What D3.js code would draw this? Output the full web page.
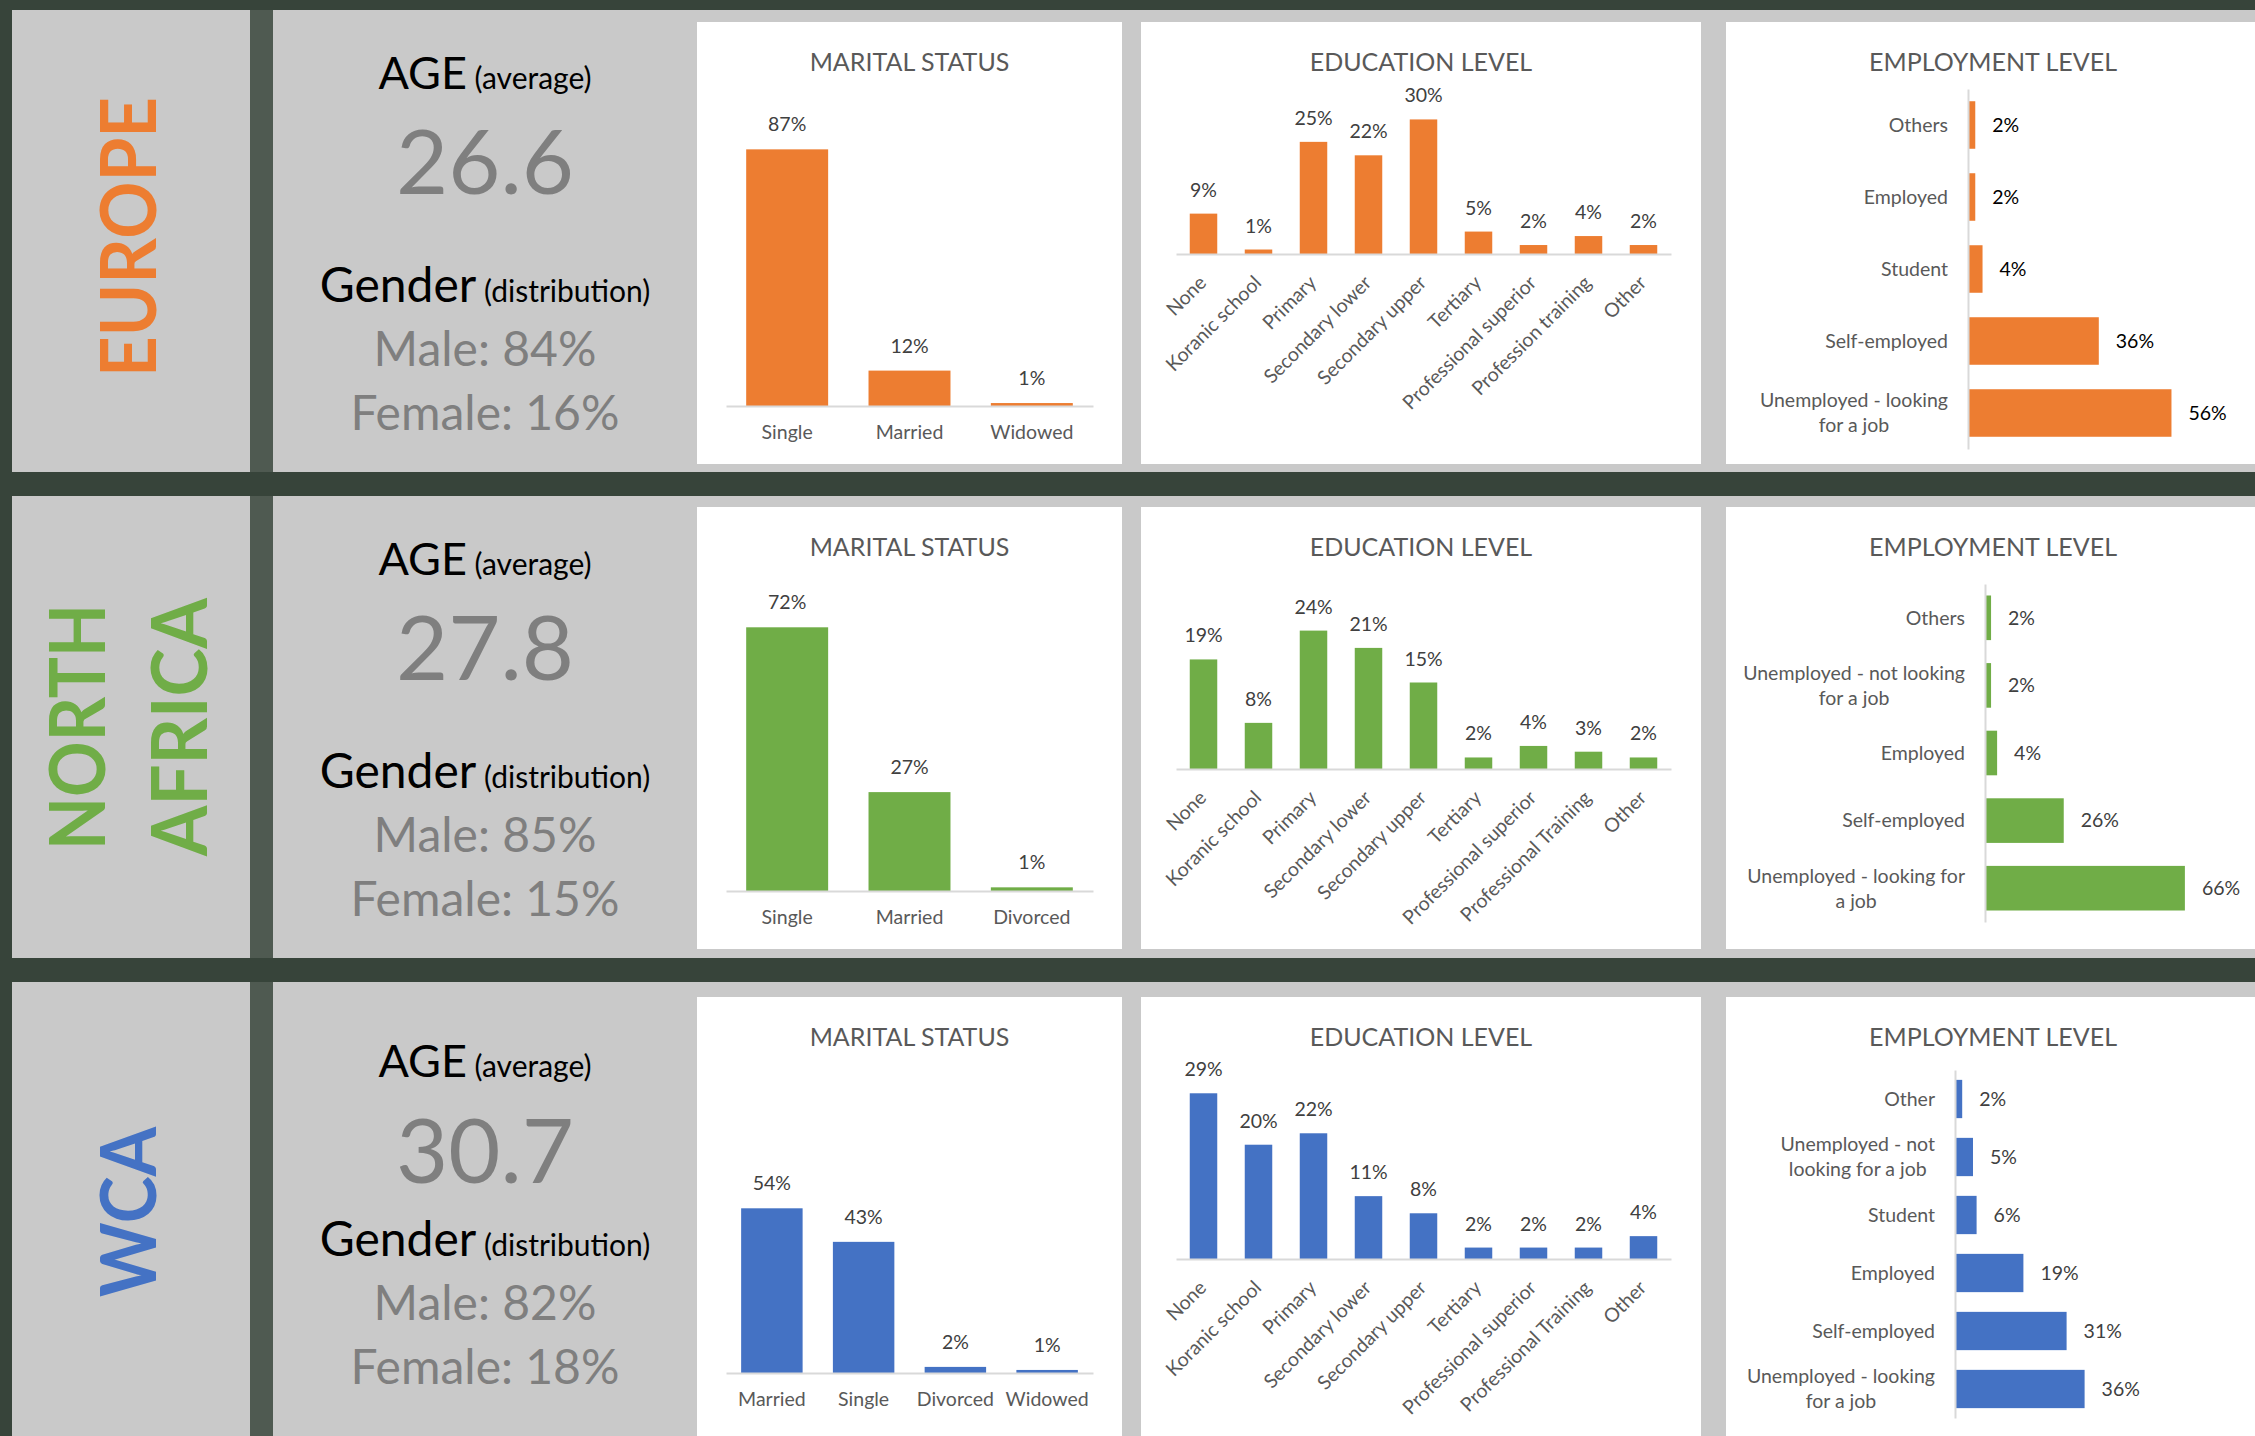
<!DOCTYPE html>
<meta charset="utf-8">
<script src="https://d3js.org/d3.v7.min.js"></script>
<style>
body { margin: 0; background: #37443a; }
text { font-family: Lato, "Open Sans", sans-serif; }
</style>
<body>
<div id="canvas"></div>
<script>

// ---- data -------------------------------------------------------------
var regionNames = [["EUROPE"], ["NORTH", "AFRICA"], ["WCA"]];
var ageAverage = [26.6, 27.8, 30.7];
var malePct = [84, 85, 82];
var femalePct = [16, 15, 18];

var maritalCategories = [
    ["Single", "Married", "Widowed"],
    ["Single", "Married", "Divorced"],
    ["Married", "Single", "Divorced", "Widowed"]
];
var maritalValues = [[87, 12, 1], [72, 27, 1], [54, 43, 2, 1]];

var educationCategoriesEurope = ["None", "Koranic school", "Primary", "Secondary lower", "Secondary upper",
    "Tertiary", "Professional superior", "Profession training", "Other"];
var educationCategoriesAfrica = ["None", "Koranic school", "Primary", "Secondary lower", "Secondary upper",
    "Tertiary", "Professional superior", "Professional Training", "Other"];
var educationCategories = [educationCategoriesEurope, educationCategoriesAfrica, educationCategoriesAfrica];
var educationValues = [
    [9, 1, 25, 22, 30, 5, 2, 4, 2],
    [19, 8, 24, 21, 15, 2, 4, 3, 2],
    [29, 20, 22, 11, 8, 2, 2, 2, 4]
];

var employmentCategories = [
    ["Others", "Employed", "Student", "Self-employed", "Unemployed - looking\nfor a job"],
    ["Others", "Unemployed - not looking\nfor a job", "Employed", "Self-employed", "Unemployed - looking for\na job"],
    ["Other", "Unemployed - not\nlooking for a job", "Student", "Employed", "Self-employed", "Unemployed - looking\nfor a job"]
];
var employmentValues = [[2, 2, 4, 36, 56], [2, 2, 4, 26, 66], [2, 5, 6, 19, 31, 36]];

// ---- layout -----------------------------------------------------------
var W = 2255, H = 1436;
var regionColors = ["#ed7d31", "#70ad47", "#4472c4"];
var rowTop = [10, 496, 982], rowH = 462;
var panelTop = [22, 507, 997], panelBottom = [464, 949, 1450];

// baselines of the info texts, relative to the row top
var infoBase = [[79, 184, 292, 356, 420], [79, 184, 292, 356, 420], [95, 201, 274, 338, 402]];

// region name: baseline x, length, vertical centre
var nameBase = [[156], [105, 207], [156]];
var nameLen = [[280], [246, 258], [170]];
var nameMid = [237, 727, 1212];

// chart plot areas (relative to the white panel)
var maritalLayout = [{axis: 384, top: 89, max: 100}, {axis: 384, top: 91, max: 80}, {axis: 376, top: 71, max: 100}];
var educationLayout = [{axis: 232, top: 75, max: 35}, {axis: 262, top: 89, max: 30}, {axis: 262, top: 62, max: 35}];
var employmentLayout = [
    {axisX: 242, top: 67, bottom: 427, max: 60, len: 218, labelColor: "#000"},
    {axisX: 259, top: 77, bottom: 415, max: 70, len: 212, labelColor: "#404040"},
    {axisX: 229, top: 73, bottom: 421, max: 40, len: 144, labelColor: "#404040"}
];

var svg = d3.select("#canvas")
    .append("svg")
    .attr("width", W)
    .attr("height", H);

svg.append("rect").attr("width", W).attr("height", H).attr("fill", "#37443a");

function pct(d) { return d + "%"; }

function chartTitle(g, label, cx) {
    g.append("text")
        .attr("x", cx)
        .attr("y", 49)
        .attr("text-anchor", "middle")
        .attr("font-size", 25)
        .attr("fill", "#595959")
        .text(label);
}

function styleAxis(a) {
    a.attr("font-family", "Lato, sans-serif").attr("font-size", 19.5);
    a.select(".domain").attr("stroke", "#d9d9d9").attr("stroke-width", 2);
    a.selectAll("text").attr("fill", "#595959");
}

// ---- marital status ---------------------------------------------------
function drawMarital(r) {
    var L = maritalLayout[r];
    var g = svg.append("g").attr("transform", "translate(697," + panelTop[r] + ")");
    g.append("rect").attr("width", 425).attr("height", panelBottom[r] - panelTop[r]).attr("fill", "#fff");
    chartTitle(g, "MARITAL STATUS", 212.5);

    var data = maritalCategories[r].map(function(c, i) { return {cat: c, value: maritalValues[r][i]}; });
    var x = d3.scaleBand().domain(maritalCategories[r]).range([29, 396]).paddingInner(0.33).paddingOuter(0.165);
    var y = d3.scaleLinear().domain([0, L.max]).range([L.axis, L.top]);

    g.selectAll(".bar").data(data).enter().append("rect")
        .attr("x", function(d) { return x(d.cat); })
        .attr("y", function(d) { return y(d.value); })
        .attr("width", x.bandwidth())
        .attr("height", function(d) { return y(0) - y(d.value); })
        .attr("fill", regionColors[r]);

    g.selectAll(".lbl").data(data).enter().append("text")
        .attr("x", function(d) { return x(d.cat) + x.bandwidth() / 2; })
        .attr("y", function(d) { return y(d.value) - 18; })
        .attr("text-anchor", "middle")
        .attr("font-size", 19.5)
        .attr("fill", "#404040")
        .text(function(d) { return pct(d.value); });

    var a = g.append("g")
        .attr("transform", "translate(0," + L.axis + ")")
        .call(d3.axisBottom(x).tickSize(0).tickPadding(19));
    styleAxis(a);
}

// ---- education level --------------------------------------------------
function drawEducation(r) {
    var L = educationLayout[r];
    var g = svg.append("g").attr("transform", "translate(1141," + panelTop[r] + ")");
    g.append("rect").attr("width", 560).attr("height", panelBottom[r] - panelTop[r]).attr("fill", "#fff");
    chartTitle(g, "EDUCATION LEVEL", 280);

    var data = educationCategories[r].map(function(c, i) { return {cat: c, value: educationValues[r][i]}; });
    var x = d3.scaleBand().domain(educationCategories[r]).range([35, 530]).paddingInner(0.5).paddingOuter(0.25);
    var y = d3.scaleLinear().domain([0, L.max]).range([L.axis, L.top]);

    g.selectAll(".bar").data(data).enter().append("rect")
        .attr("x", function(d) { return x(d.cat); })
        .attr("y", function(d) { return y(d.value); })
        .attr("width", x.bandwidth())
        .attr("height", function(d) { return y(0) - y(d.value); })
        .attr("fill", regionColors[r]);

    g.selectAll(".lbl").data(data).enter().append("text")
        .attr("x", function(d) { return x(d.cat) + x.bandwidth() / 2; })
        .attr("y", function(d) { return y(d.value) - 17; })
        .attr("text-anchor", "middle")
        .attr("font-size", 19.5)
        .attr("fill", "#404040")
        .text(function(d) { return pct(d.value); });

    var a = g.append("g")
        .attr("transform", "translate(0," + L.axis + ")")
        .call(d3.axisBottom(x).tickSize(0));
    styleAxis(a);
    // rotated labels, end of the text just under the bar
    a.selectAll(".tick text")
        .attr("x", 0).attr("y", 0).attr("dy", 0)
        .attr("text-anchor", "end")
        .attr("transform", "translate(4,30) rotate(-45)");
}

// ---- employment level -------------------------------------------------
function drawEmployment(r) {
    var L = employmentLayout[r];
    var g = svg.append("g").attr("transform", "translate(1726," + panelTop[r] + ")");
    g.append("rect").attr("width", W - 1726).attr("height", panelBottom[r] - panelTop[r]).attr("fill", "#fff");
    chartTitle(g, "EMPLOYMENT LEVEL", 267);

    var data = employmentCategories[r].map(function(c, i) { return {cat: c, value: employmentValues[r][i]}; });
    var y = d3.scaleBand().domain(employmentCategories[r]).range([L.top, L.bottom]).paddingInner(0.34).paddingOuter(0.17);
    var x = d3.scaleLinear().domain([0, L.max]).range([L.axisX, L.axisX + L.len]);

    g.selectAll(".bar").data(data).enter().append("rect")
        .attr("x", x(0))
        .attr("y", function(d) { return y(d.cat); })
        .attr("width", function(d) { return x(d.value) - x(0); })
        .attr("height", y.bandwidth())
        .attr("fill", regionColors[r]);

    g.selectAll(".lbl").data(data).enter().append("text")
        .attr("x", function(d) { return x(d.value) + 17; })
        .attr("y", function(d) { return y(d.cat) + y.bandwidth() / 2; })
        .attr("dy", "0.35em")
        .attr("font-size", 19.5)
        .attr("fill", L.labelColor)
        .text(function(d) { return pct(d.value); });

    var a = g.append("g")
        .attr("transform", "translate(" + L.axisX + ",0)")
        .call(d3.axisLeft(y).tickSize(0).tickSizeOuter(0));
    styleAxis(a);

    // multi-line labels: lines centred on each other, block right aligned
    a.selectAll(".tick text").each(function(d) {
        var t = d3.select(this);
        var lines = d.split("\n");
        t.text(null).attr("dy", null).attr("y", 0);
        var spans = lines.map(function(line, i) {
            return t.append("tspan").attr("y", (i - (lines.length - 1) / 2) * 25).attr("dy", "0.35em").text(line);
        });
        var maxW = d3.max(spans, function(s) { return s.node().getComputedTextLength(); });
        if (lines.length > 1) {
            t.attr("text-anchor", "middle");
            spans.forEach(function(s) { s.attr("x", -20 - maxW / 2); });
        } else {
            t.attr("text-anchor", "end");
            spans[0].attr("x", -20);
        }
    });
}

// ---- rows -------------------------------------------------------------
regionNames.forEach(function(words, r) {
    var top = rowTop[r];
    svg.append("rect").attr("x", 12).attr("y", top).attr("width", 238).attr("height", rowH).attr("fill", "#c9c9c9");
    svg.append("rect").attr("x", 250).attr("y", top).attr("width", 23).attr("height", rowH).attr("fill", "#4f5a51");
    svg.append("rect").attr("x", 273).attr("y", top).attr("width", W - 273).attr("height", rowH).attr("fill", "#c9c9c9");

    words.forEach(function(w, i) {
        svg.append("text")
            .attr("transform", "translate(" + nameBase[r][i] + "," + nameMid[r] + ") rotate(-90)")
            .attr("text-anchor", "middle")
            .attr("font-family", "'Open Sans', sans-serif")
            .attr("font-weight", 700)
            .attr("font-size", 76)
            .attr("textLength", nameLen[r][i])
            .attr("lengthAdjust", "spacingAndGlyphs")
            .attr("fill", regionColors[r])
            .text(w);
    });

    var b = infoBase[r], cx = 485;
    var age = svg.append("text").attr("x", cx).attr("y", top + b[0]).attr("text-anchor", "middle");
    age.append("tspan").attr("font-size", 45).attr("fill", "#000").text("AGE");
    age.append("tspan").attr("font-size", 30).attr("fill", "#000").text(" (average)");

    svg.append("text").attr("x", cx).attr("y", top + b[1]).attr("text-anchor", "middle")
        .attr("font-size", 90).attr("fill", "#7f7f7f").text(ageAverage[r].toFixed(1));

    var gen = svg.append("text").attr("x", cx).attr("y", top + b[2]).attr("text-anchor", "middle");
    gen.append("tspan").attr("font-size", 48).attr("fill", "#000").text("Gender");
    gen.append("tspan").attr("font-size", 30).attr("fill", "#000").text(" (distribution)");

    svg.append("text").attr("x", cx).attr("y", top + b[3]).attr("text-anchor", "middle")
        .attr("font-size", 48).attr("fill", "#7f7f7f").text("Male: " + pct(malePct[r]));
    svg.append("text").attr("x", cx).attr("y", top + b[4]).attr("text-anchor", "middle")
        .attr("font-size", 48).attr("fill", "#7f7f7f").text("Female: " + pct(femalePct[r]));

    drawMarital(r);
    drawEducation(r);
    drawEmployment(r);
});

</script>
</body>
